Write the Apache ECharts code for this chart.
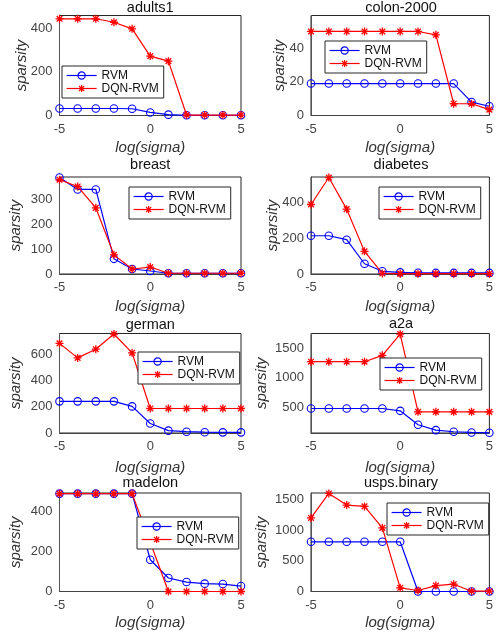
<!DOCTYPE html>
<html><head><meta charset="utf-8">
<script src="https://cdn.jsdelivr.net/npm/echarts@6/dist/echarts.min.js"></script>
<style>html,body{margin:0;padding:0;background:#fff}#c{width:496px;height:636px}</style>
</head><body><div id="c"></div>
<script>
// ---- data ----
const logSigma = [-5, -4, -3, -2, -1, 0, 1, 2, 3, 4, 5];
const xTicks = [-5, 0, 5];
const seriesNames = ['RVM', 'DQN-RVM'];
const titles = ['adults1', 'colon-2000', 'breast', 'diabetes', 'german', 'a2a', 'madelon', 'usps.binary'];

const adults1RVM = [32, 32, 32, 32, 31, 14, 4, 1, 1, 1, 1];
const adults1DQN = [443, 443, 443, 427, 397, 272, 249, 2, 2, 2, 2];
const colonRVM = [19, 19, 19, 19, 19, 19, 19, 19, 19, 8, 5.5];
const colonDQN = [50, 50, 50, 50, 50, 50, 50, 48, 7, 7, 3.5];
const breastRVM = [388, 340, 340, 61, 20, 12, 3, 3, 3, 3, 3];
const breastDQN = [379, 352, 266, 77, 20, 28, 3, 3, 3, 3, 3];
const diabetesRVM = [213, 213, 191, 57, 15, 9, 7, 6, 6, 6, 6];
const diabetesDQN = [387, 537, 361, 126, 3, 2, 2, 2, 2, 2, 2];
const germanRVM = [240, 240, 240, 240, 202, 72, 18, 10, 6, 5, 5];
const germanDQN = [680, 570, 636, 751, 608, 186, 186, 186, 186, 186, 186];
const a2aRVM = [476, 476, 476, 476, 476, 437, 201, 111, 83, 71, 66];
const a2aDQN = [1268, 1268, 1268, 1268, 1375, 1734, 420, 420, 420, 420, 420];
const madelonRVM = [487, 487, 487, 487, 487, 158, 67, 47, 39, 37, 27];
const madelonDQN = [487, 487, 487, 487, 487, 245, 0, 0, 0, 0, 0];
const uspsRVM = [812, 812, 812, 812, 812, 812, 0, 0, 0, 0, 0];
const uspsDQN = [1202, 1603, 1413, 1391, 1040, 60, 16, 97, 119, 5, 5];

const rvmSets = [adults1RVM, colonRVM, breastRVM, diabetesRVM, germanRVM, a2aRVM, madelonRVM, uspsRVM];
const dqnSets = [adults1DQN, colonDQN, breastDQN, diabetesDQN, germanDQN, a2aDQN, madelonDQN, uspsDQN];

const yTicksAdults1 = [0, 200, 400];
const yTicksColon = [0, 20, 40];
const yTicksBreast = [0, 100, 200, 300];
const yTicksDiabetes = [0, 200, 400];
const yTicksGerman = [0, 200, 400, 600];
const yTicksA2a = [500, 1000, 1500];
const yTicksMadelon = [0, 200, 400];
const yTicksUsps = [0, 500, 1000, 1500];
const yTickSets = [yTicksAdults1, yTicksColon, yTicksBreast, yTicksDiabetes, yTicksGerman, yTicksA2a, yTicksMadelon, yTicksUsps];

const yMin = [0, 0, 0, 0, 0, 62, 0, 0];
const yMax = [458, 59.5, 390, 540, 755, 1745, 490, 1610];

// ---- layout ----
const FONT = '"Liberation Sans", Arial, Helvetica, sans-serif';
const colLeft = [59.5, 311];
const colWidth = [181.5, 180];
const rowTop = [15.5, 177, 333.5, 493];
const rowHeight = [100, 97, 99.5, 98.5];
const xNameGap = [25, 25.5, 27, 24];
const yNameGap = [30, 23.5, 36.5, 31, 36.5, 42, 36.5, 42];
const legendPos = [[62, 66], [325, 41], [129, 187], [379, 187], [138, 352], [380, 358], [137, 517], [387, 503]];
const titleTop = [0.5, 0.5, 157.5, 157.5, 317, 316, 475.5, 475.5];

const meas = document.createElement('canvas').getContext('2d');
meas.font = '14.5px ' + FONT;

const asterisk = 'path://M5,0L5,10M0,5L10,5M1.46,1.46L8.54,8.54M1.46,8.54L8.54,1.46';
const plain = (v) => String(v);

const option = { animation: false, backgroundColor: '#fff', title: [], grid: [], xAxis: [], yAxis: [], series: [], legend: [] };

for (let i = 0; i < 8; i++) {
  const c = i % 2, r = Math.floor(i / 2);
  const left = colLeft[c], width = colWidth[c], top = rowTop[r];
  option.grid.push({ left: left, top: top, width: width, height: rowHeight[r], show: true, borderColor: '#262626', borderWidth: 1, backgroundColor: '#fff', containLabel: false });
  const tw = meas.measureText(titles[i]).width;
  option.title.push({ text: titles[i], left: left + width / 2 - tw / 2, top: titleTop[i], padding: 0,
    textStyle: { fontFamily: FONT, fontSize: 14.5, fontWeight: 'normal', color: '#111' } });
  option.xAxis.push({ gridIndex: i, type: 'value', min: -5, max: 5,
    name: 'log(sigma)', nameLocation: 'middle', nameGap: xNameGap[r],
    nameTextStyle: { fontFamily: FONT, fontSize: 15, fontStyle: 'italic', color: '#333' },
    axisLine: { show: true, onZero: false, lineStyle: { color: '#444', width: 1 } },
    axisTick: { show: false },
    splitLine: { show: false },
    axisLabel: { customValues: xTicks, formatter: plain, margin: 7, fontFamily: FONT, fontSize: 13, color: '#444' } });
  option.yAxis.push({ gridIndex: i, type: 'value', min: yMin[i], max: yMax[i],
    name: 'sparsity', nameLocation: 'middle', nameGap: yNameGap[i], nameRotate: 90, nameMoveOverlap: false,
    nameTextStyle: { fontFamily: FONT, fontSize: 15, fontStyle: 'italic', color: '#333' },
    axisLine: { show: true, onZero: false, lineStyle: { color: '#555', width: 1 } },
    axisTick: { show: false },
    splitLine: { show: false },
    axisLabel: { customValues: yTickSets[i], formatter: plain, margin: 7, fontFamily: FONT, fontSize: 13, color: '#444' } });
  option.series.push({ name: seriesNames[0], type: 'line', xAxisIndex: i, yAxisIndex: i,
    data: logSigma.map((x, k) => [x, rvmSets[i][k]]),
    symbol: 'circle', symbolSize: 7.5, clip: false,
    lineStyle: { color: '#0000ff', width: 1.2 },
    itemStyle: { color: 'rgba(255,255,255,0)', borderColor: '#0000ff', borderWidth: 1.1 },
    emphasis: { disabled: true }, z: 2 });
  option.series.push({ name: seriesNames[1], type: 'line', xAxisIndex: i, yAxisIndex: i,
    data: logSigma.map((x, k) => [x, dqnSets[i][k]]),
    symbol: asterisk, symbolSize: 8, clip: false,
    lineStyle: { color: '#ff0000', width: 1.2 },
    itemStyle: { color: '#ff0000', borderColor: '#ff0000', borderWidth: 1.3 },
    emphasis: { disabled: true }, z: 3 });
  option.legend.push({ left: legendPos[i][0], top: legendPos[i][1], orient: 'vertical',
    data: seriesNames, selectedMode: false,
    itemWidth: 30, itemHeight: 9, itemGap: 0,
    padding: [3, 5, 3, 4],
    backgroundColor: '#fff', borderColor: '#262626', borderWidth: 1,
    itemStyle: { borderWidth: 1.2 }, lineStyle: { width: 1.2 },
    textStyle: { fontFamily: FONT, fontSize: 12, color: '#111', lineHeight: 13, padding: [0, 0, 0, 0] },
    z: 10 });
}

const chart = echarts.init(document.getElementById('c'), null, { renderer: 'canvas' });
chart.setOption(option);
</script>
</body></html>
